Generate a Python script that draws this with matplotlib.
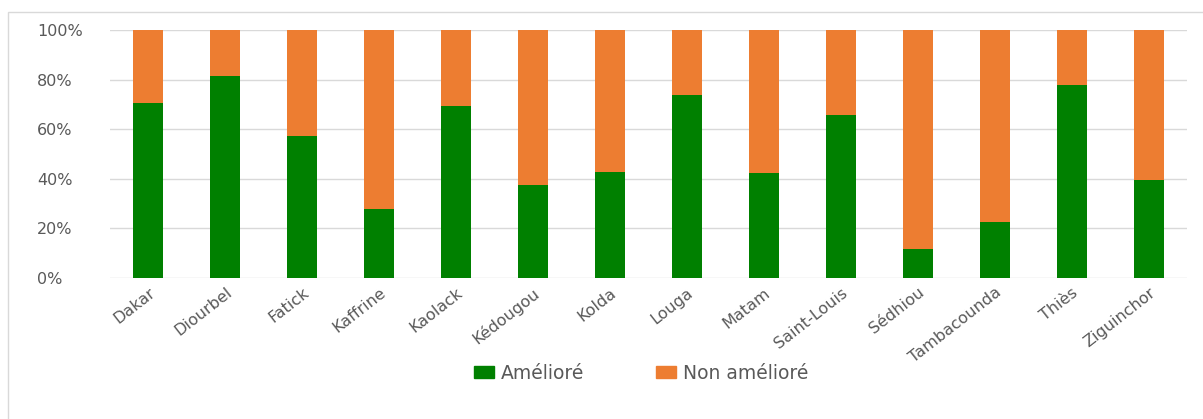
import matplotlib
matplotlib.use("Agg")
import matplotlib.pyplot as plt
from matplotlib.patches import Rectangle, Patch
from matplotlib.ticker import PercentFormatter

regions = ["Dakar", "Diourbel", "Fatick", "Kaffrine", "Kaolack", "Kédougou", "Kolda",
           "Louga", "Matam", "Saint-Louis", "Sédhiou", "Tambacounda", "Thiès", "Ziguinchor"]
ameliore = [70.4, 81.3, 57.2, 27.9, 69.4, 37.4, 42.8, 73.6, 42.3, 65.8, 11.7, 22.4, 77.7, 39.7]
non_ameliore = [100 - v for v in ameliore]

green = "#008000"
orange = "#ED7D31"
grey_text = "#595959"

plt.rcParams['font.family'] = ['DejaVu Sans']

fig = plt.figure(figsize=(12.03, 4.19), dpi=100)
fig.patches.append(Rectangle((7.5 / 1203, -0.01), 1.02, 1 - 12 / 419 + 0.01, transform=fig.transFigure,
                             fill=False, edgecolor="#d9d9d9", linewidth=1.0))
ax = fig.add_axes([110 / 1203, 1 - 278 / 419, (1187 - 110) / 1203, (278 - 30) / 419])

x = range(len(regions))
ax.bar(x, ameliore, width=0.39, color=green, zorder=3, label="Amélioré")
ax.bar(x, non_ameliore, width=0.39, bottom=ameliore, color=orange, zorder=3, label="Non amélioré")

ax.set_xlim(-0.5, len(regions) - 0.5)
ax.set_ylim(0, 100)
ax.set_yticks([0, 20, 40, 60, 80, 100])
ax.yaxis.set_major_formatter(PercentFormatter(decimals=0))
ax.grid(axis="y", color="#d9d9d9", linewidth=1.0, zorder=0)
for s in ax.spines.values():
    s.set_visible(False)
ax.tick_params(axis="both", length=0, colors=grey_text, labelsize=11.5)
ax.tick_params(axis="y", pad=(110 - 37) * 0.72)
for lbl in ax.get_yticklabels():
    lbl.set_horizontalalignment("left")
ax.set_xticks(list(x))
ax.set_xticklabels(regions, rotation=38, ha="right", rotation_mode="anchor")
ax.tick_params(axis="x", pad=5)

handles = [Patch(color=green, label="Amélioré"), Patch(color=orange, label="Non amélioré")]
fig.legend(handles=handles, loc="center", bbox_to_anchor=(641 / 1203, 1 - 373 / 419), ncol=2,
           frameon=False, fontsize=13.5, handlelength=1.1, handleheight=0.65, columnspacing=3.8,
           handletextpad=0.35, labelcolor=grey_text)

fig.savefig("out.png", dpi=100)
